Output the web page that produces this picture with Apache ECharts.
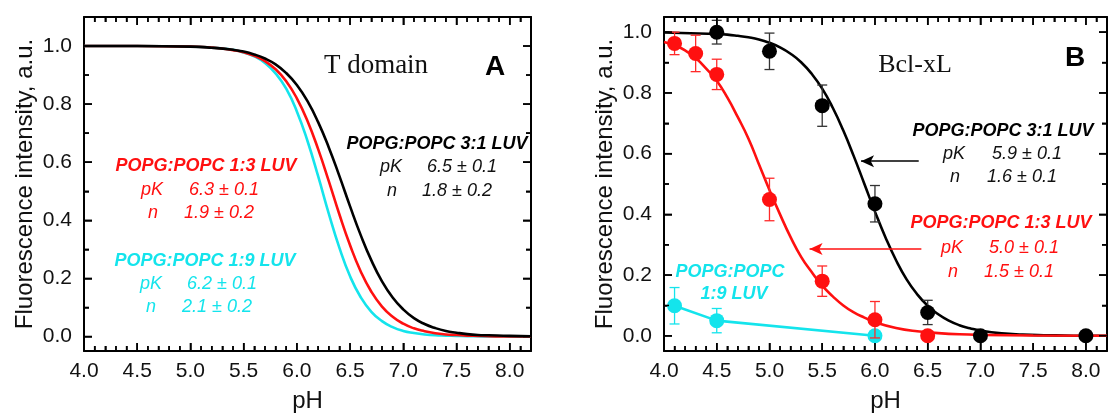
<!DOCTYPE html>
<html><head><meta charset="utf-8">
<script src="https://cdn.jsdelivr.net/npm/echarts@6/dist/echarts.min.js"></script>
<style>html,body{margin:0;padding:0;background:#fff}#c{width:1110px;height:418px}</style>
</head><body><div id="c"></div>
<script>
// ---------- Panel A (T domain): fitted curves ----------
const pH_A = [4.0,4.5,5.0,5.2,5.4,5.5,5.6,5.7,5.8,5.9,6.0,6.1,6.2,6.3,6.4,6.5,6.6,6.7,6.8,6.9,7.0,7.1,7.2,7.3,7.4,7.5,7.6,7.7,7.8,8.0,8.2];
const A_black = [1.000,1.000,0.998,0.994,0.987,0.981,0.971,0.957,0.937,0.907,0.866,0.810,0.738,0.651,0.552,0.448,0.349,0.262,0.190,0.134,0.093,0.063,0.043,0.029,0.019,0.013,0.008,0.005,0.004,0.002,0.001];
const A_red   = [1.000,1.000,0.998,0.995,0.986,0.979,0.966,0.948,0.920,0.879,0.820,0.742,0.645,0.535,0.420,0.314,0.224,0.154,0.103,0.068,0.044,0.028,0.018,0.011,0.007,0.005,0.003,0.002,0.001,0.000,0.000];
const A_cyan  = [1.000,1.000,0.998,0.995,0.987,0.978,0.965,0.942,0.906,0.853,0.775,0.673,0.552,0.423,0.305,0.207,0.135,0.085,0.053,0.032,0.019,0.012,0.007,0.004,0.003,0.002,0.001,0.001,0.000,0.000,0.000];

// ---------- Panel B (Bcl-xL): fitted curves ----------
const pH_Bk = [4.0,4.5,4.6,4.7,4.8,4.9,5.0,5.1,5.2,5.3,5.4,5.5,5.6,5.7,5.8,5.9,6.0,6.1,6.2,6.3,6.4,6.5,6.6,6.7,6.8,6.9,7.0,7.2,7.4,7.6,7.8,8.0,8.2];
const B_blackFit = [0.999,0.994,0.992,0.988,0.983,0.976,0.965,0.950,0.929,0.901,0.863,0.814,0.751,0.676,0.591,0.500,0.409,0.324,0.249,0.186,0.137,0.099,0.071,0.050,0.035,0.025,0.017,0.008,0.004,0.002,0.001,0.000,0.000];
const pH_Br = [4.0,4.1,4.2,4.3,4.4,4.5,4.6,4.7,4.8,4.9,5.0,5.1,5.2,5.3,5.4,5.5,5.6,5.7,5.8,5.9,6.0,6.2,6.4,6.6,6.8,7.0,7.5,8.2];
const B_redFit = [0.968,0.957,0.940,0.915,0.880,0.840,0.785,0.720,0.650,0.565,0.480,0.400,0.325,0.260,0.210,0.165,0.130,0.100,0.077,0.060,0.045,0.026,0.015,0.009,0.005,0.003,0.001,0.000];

// ---------- Panel B measured points [pH, value, error] ----------
const B_blackPts = [[4.5,1.000,0.039],[5.0,0.937,0.060],[5.5,0.758,0.068],[6.0,0.435,0.060],[6.5,0.077,0.040],[7.0,0.000,0.004],[8.0,0.000,0.004]];
const B_redPts   = [[4.1,0.963,0.037],[4.3,0.930,0.060],[4.5,0.861,0.050],[5.0,0.449,0.070],[5.5,0.180,0.050],[6.0,0.053,0.060],[6.5,0.000,0.005]];
const B_cyanPts  = [[4.1,0.099,0.060],[4.5,0.050,0.040],[6.0,0.000,0.010]];

// ---------- axis ranges and tick steps ----------
const xRange = [4.0, 8.2];
const yRangeA = [-0.05, 1.1], yRangeB = [-0.05, 1.05];
const xMajorStep = 0.5, xMinorStep = 0.1;
const yMajorStep = 0.2, yMinorStep = 0.1;

// ---------- annotation arrows (data coords) ----------
const arrowBlack = [[6.415,0.575],[5.868,0.575]];
const arrowRed   = [[6.44,0.286],[5.38,0.286]];

const FONT = '"Liberation Sans", Arial, Helvetica, sans-serif';
const SERIF = '"Liberation Serif", "Times New Roman", serif';
const RED = '#ff1010', CYAN = '#14e4ec', BLACK = '#000000';
const MAJOR_LEN = 8, MINOR_LEN = 5;

function isMult(v, step) { const q = v / step; return Math.abs(q - Math.round(q)) < 1e-6; }

// 6 axes per dimension per grid: 0 = labelled frame side, 1 = opposite frame side,
// 2/3 = major ticks pointing into the plot, 4/5 = minor ticks
function axesFor(dim, gi, range, majorStep, minorStep, name, nameGap) {
  const near = dim === 'x' ? 'bottom' : 'left', far = dim === 'x' ? 'top' : 'right';
  const spec = [
    {pos: near, line: true, step: majorStep},
    {pos: far, line: true, step: majorStep},
    {pos: near, tick: MAJOR_LEN, step: majorStep},
    {pos: far, tick: MAJOR_LEN, step: majorStep},
    {pos: near, tick: MINOR_LEN, step: minorStep},
    {pos: far, tick: MINOR_LEN, step: minorStep}
  ];
  return spec.map((s, i) => {
    const ax = {
      type: 'value', gridIndex: gi, position: s.pos, min: range[0], max: range[1],
      offset: s.tick ? -s.tick : 0,
      minInterval: s.step, maxInterval: s.step, splitNumber: Math.round((range[1] - range[0]) / s.step),
      axisLine: {show: !!s.line, onZero: false, lineStyle: {color: '#000', width: 2}},
      axisTick: {show: !!s.tick, inside: false, length: s.tick || 0, lineStyle: {color: '#000', width: 1.5}},
      axisLabel: {show: false},
      splitLine: {show: false}
    };
    if (i === 0) {
      ax.axisLabel = {show: true, formatter: v => isMult(v, majorStep) ? Number(v).toFixed(1) : '',
                      fontFamily: FONT, fontSize: 21, color: '#111', margin: dim === 'x' ? 10 : 12};
      ax.name = name; ax.nameLocation = 'middle'; ax.nameGap = nameGap;
      ax.nameTextStyle = {fontFamily: FONT, fontSize: 24, color: '#111'};
    }
    return ax;
  });
}

const zipXY = (xs, ys) => xs.map((x, i) => [x, ys[i]]);

function errBars(pts, color, xi, yi, z) {
  return {
    type: 'custom', xAxisIndex: xi, yAxisIndex: yi, z: z, silent: true,
    data: pts,
    renderItem: (params, api) => {
      const x = api.value(0), y = api.value(1), e = api.value(2);
      const t = api.coord([x, y + e]), b = api.coord([x, y - e]);
      const w = 5;
      const st = {stroke: color, lineWidth: 1.3};
      return {type: 'group', children: [
        {type: 'line', shape: {x1: t[0], y1: t[1], x2: b[0], y2: b[1]}, style: st},
        {type: 'line', shape: {x1: t[0]-w, y1: t[1], x2: t[0]+w, y2: t[1]}, style: st},
        {type: 'line', shape: {x1: b[0]-w, y1: b[1], x2: b[0]+w, y2: b[1]}, style: st}
      ]};
    }
  };
}

function pointsSeries(pts, color, xi, yi, z) {
  return {type: 'scatter', xAxisIndex: xi, yAxisIndex: yi, z: z, silent: true,
          symbol: 'circle', symbolSize: 15, itemStyle: {color: color, opacity: 1},
          data: pts.map(p => [p[0], p[1]])};
}

function curve(xs, ys, color, xi, yi, z, extra) {
  return Object.assign({type: 'line', xAxisIndex: xi, yAxisIndex: yi, z: z, silent: true,
          data: zipXY(xs, ys), showSymbol: false, symbol: 'none', smooth: 0.5,
          lineStyle: {color: color, width: 2.6}}, extra || {});
}

function arrowLine(seg, color) {
  return {silent: true, symbol: ['none', 'arrow'], symbolSize: [9, 13],
          label: {show: false}, lineStyle: {color: color, width: 1.5, type: 'solid'},
          data: [[{coord: seg[0]}, {coord: seg[1]}]]};
}

function txt(x, y, text, color, opts) {
  opts = opts || {};
  return {type: 'text', x: x, y: y, silent: true, z: 100,
          style: {text: text, fill: color,
                  font: (opts.style || '') + ' ' + (opts.weight || 'normal') + ' ' + (opts.size || 18) + 'px ' + (opts.family || FONT),
                  align: opts.align || 'left', verticalAlign: 'middle'}};
}

const titleBI = {style: 'italic', weight: 'bold', align: 'center'};
const it = {style: 'italic'};

const X0 = 0, X1 = 6, Y0 = 0, Y1 = 6; // first axis index of each grid

const texts = [
  // Panel A
  txt(376, 66, 'T domain', '#111', {size: 27, family: SERIF, align: 'center'}),
  txt(495, 67, 'A', '#000', {size: 28, weight: 'bold', align: 'center'}),
  txt(437, 144, 'POPG:POPC 3:1 LUV', BLACK, titleBI),
  txt(380, 167, 'pK', '#111', it), txt(427, 167, '6.5 ± 0.1', '#111', it),
  txt(387, 191, 'n', '#111', it), txt(422, 191, '1.8 ± 0.2', '#111', it),
  txt(206, 166, 'POPG:POPC 1:3 LUV', RED, titleBI),
  txt(141, 190, 'pK', RED, it), txt(189, 190, '6.3 ± 0.1', RED, it),
  txt(148, 213, 'n', RED, it), txt(184, 213, '1.9 ± 0.2', RED, it),
  txt(205, 261, 'POPG:POPC 1:9 LUV', CYAN, titleBI),
  txt(140, 284, 'pK', CYAN, it), txt(187, 284, '6.2 ± 0.1', CYAN, it),
  txt(146, 307, 'n', CYAN, it), txt(182, 307, '2.1 ± 0.2', CYAN, it),
  // Panel B
  txt(915, 65, 'Bcl-xL', '#111', {size: 26, family: SERIF, align: 'center'}),
  txt(1075, 58, 'B', '#000', {size: 28, weight: 'bold', align: 'center'}),
  txt(1003, 131, 'POPG:POPC 3:1 LUV', BLACK, titleBI),
  txt(943, 154, 'pK', '#111', it), txt(992, 154, '5.9 ± 0.1', '#111', it),
  txt(950, 177, 'n', '#111', it), txt(987, 177, '1.6 ± 0.1', '#111', it),
  txt(1001, 223, 'POPG:POPC 1:3 LUV', RED, titleBI),
  txt(941, 248, 'pK', RED, it), txt(989, 248, '5.0 ± 0.1', RED, it),
  txt(948, 272, 'n', RED, it), txt(984, 272, '1.5 ± 0.1', RED, it),
  txt(730, 272, 'POPG:POPC', CYAN, titleBI),
  txt(734, 294, '1:9 LUV', CYAN, titleBI)
];

const option = {
  animation: false,
  grid: [
    {left: 84, top: 17, width: 447, height: 335},
    {left: 664, top: 17, width: 444, height: 335}
  ],
  xAxis: [].concat(
    axesFor('x', 0, xRange, xMajorStep, xMinorStep, 'pH', 38),
    axesFor('x', 1, xRange, xMajorStep, xMinorStep, 'pH', 38)),
  yAxis: [].concat(
    axesFor('y', 0, yRangeA, yMajorStep, yMinorStep, 'Fluorescence intensity, a.u.', 47),
    axesFor('y', 1, yRangeB, yMajorStep, yMinorStep, 'Fluorescence intensity, a.u.', 47)),
  series: [
    curve(pH_A, A_cyan, CYAN, X0, Y0, 2),
    curve(pH_A, A_red, RED, X0, Y0, 3),
    curve(pH_A, A_black, BLACK, X0, Y0, 4),

    curve(pH_Bk, B_blackFit, BLACK, X1, Y1, 2, {markLine: arrowLine(arrowBlack, BLACK)}),
    curve(pH_Br, B_redFit, RED, X1, Y1, 3, {markLine: arrowLine(arrowRed, RED)}),
    {type: 'line', xAxisIndex: X1, yAxisIndex: Y1, z: 1, silent: true, showSymbol: false, symbol: 'none',
     data: B_cyanPts.map(p => [p[0], p[1]]), lineStyle: {color: CYAN, width: 2.6}},
    errBars(B_cyanPts, CYAN, X1, Y1, 5),
    pointsSeries(B_cyanPts, CYAN, X1, Y1, 6),
    errBars(B_redPts, '#ff2a2a', X1, Y1, 7),
    pointsSeries(B_redPts, RED, X1, Y1, 8),
    errBars(B_blackPts, '#333', X1, Y1, 9),
    pointsSeries(B_blackPts, BLACK, X1, Y1, 10)
  ],
  graphic: texts
};

const chart = echarts.init(document.getElementById('c'));
chart.setOption(option);

// Frame ticks placed through the same axes' scales (convertToPixel), so they
// always show on all four sides, pointing into the plot.
try {
  const extra = [];
  const st = {stroke: '#000', lineWidth: 1.5};
  [[X0, Y0, yRangeA], [X1, Y1, yRangeB]].forEach(([xi, yi, yr]) => {
    const yb = chart.convertToPixel({yAxisIndex: yi}, yr[0]);
    const yt = chart.convertToPixel({yAxisIndex: yi}, yr[1]);
    const xl = chart.convertToPixel({xAxisIndex: xi}, xRange[0]);
    const xr = chart.convertToPixel({xAxisIndex: xi}, xRange[1]);
    if (![yb, yt, xl, xr].every(Number.isFinite)) return;
    for (let k = 0; ; k++) {
      const v = Math.round((xRange[0] + k * xMinorStep) * 1000) / 1000;
      if (v > xRange[1] + 1e-9) break;
      const len = isMult(v, xMajorStep) ? MAJOR_LEN : MINOR_LEN;
      const px = chart.convertToPixel({xAxisIndex: xi}, v);
      extra.push({type: 'line', silent: true, z: 50, shape: {x1: px, y1: yb, x2: px, y2: yb - len}, style: st});
      extra.push({type: 'line', silent: true, z: 50, shape: {x1: px, y1: yt, x2: px, y2: yt + len}, style: st});
    }
    for (let k = 0; ; k++) {
      const v = Math.round(k * yMinorStep * 1000) / 1000;
      if (v > yr[1] + 1e-9) break;
      const len = isMult(v, yMajorStep) ? MAJOR_LEN : MINOR_LEN;
      const py = chart.convertToPixel({yAxisIndex: yi}, v);
      extra.push({type: 'line', silent: true, z: 50, shape: {x1: xl, y1: py, x2: xl + len, y2: py}, style: st});
      extra.push({type: 'line', silent: true, z: 50, shape: {x1: xr, y1: py, x2: xr - len, y2: py}, style: st});
    }
  });
  if (extra.length) {
    option.graphic = texts.concat(extra);
    chart.setOption(option, true);
  }
} catch (e) { /* keep the chart as drawn */ }
</script>
</body></html>
